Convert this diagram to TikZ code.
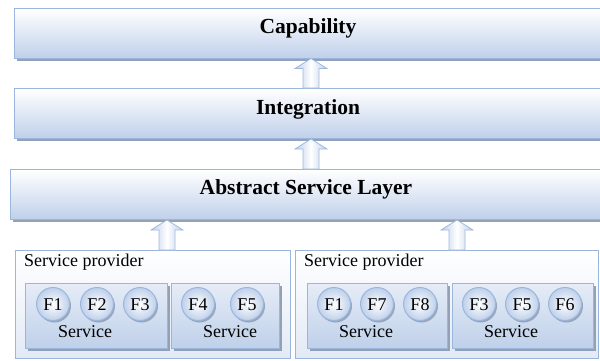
\documentclass[tikz,border=0pt]{standalone}
\usepackage{fontspec}
\setmainfont{Liberation Serif}
\usetikzlibrary{calc,shadows}
\definecolor{bord}{HTML}{9BB6DE}
\definecolor{botc}{HTML}{BFD0EA}
\definecolor{shad}{HTML}{8A98AE}
\definecolor{arrb}{HTML}{9FB8DE}
\tikzset{
  layer/.style={draw=bord,line width=1pt,top color=white,bottom color=botc,
    drop shadow={shadow xshift=2pt,shadow yshift=-2.5pt,fill=shad,opacity=0.9},
    minimum height=50pt,anchor=north west,inner sep=0pt},
  title/.style={font=\fontsize{21.5}{24}\selectfont\bfseries,anchor=base,inner sep=0pt},
  provider/.style={draw=bord,line width=1pt,top color=white,bottom color=botc!45,
    minimum height=108pt,anchor=north west,inner sep=0pt},
  servbox/.style={draw=bord,line width=1pt,top color=white!60!botc,bottom color=botc,
    drop shadow={shadow xshift=2pt,shadow yshift=-2.5pt,fill=shad,opacity=0.9},
    minimum height=65pt,anchor=north west,inner sep=0pt},
  func/.style={circle,draw=bord,line width=1pt,minimum size=33pt,inner sep=0pt,
    inner color=white,outer color=botc,
    drop shadow={shadow xshift=1.5pt,shadow yshift=-2pt,fill=shad,opacity=0.8}},
  flbl/.style={font=\fontsize{18}{20}\selectfont,anchor=base,inner sep=0pt},
  lbl/.style={font=\fontsize{18}{20}\selectfont,inner sep=0pt,anchor=base},
  barrow/.style={draw=arrb,line width=0.8pt,left color=botc,right color=botc,middle color=white}
}
\newcommand{\blockarrow}[2]{%
  \path[barrow] ($(#2)+(-8,0)$) -- ($(#1)+(-8,10)$) -- ($(#1)+(-16,10)$) -- (#1)
    -- ($(#1)+(16,10)$) -- ($(#1)+(8,10)$) -- ($(#2)+(8,0)$) -- cycle;}
\begin{document}
\begin{tikzpicture}[x=1pt,y=-1pt]
\useasboundingbox (0,0) rectangle (600,360);
\begin{scope}
\clip (0,0) rectangle (600,360);
\node[layer,minimum width=600pt] (cap) at (14,8) {};
\node[layer,minimum width=600pt] (integ) at (14,88) {};
\node[layer,minimum width=600pt] (asl) at (10,169) {};
\node[provider,minimum width=275pt] (pl) at (15,250) {};
\node[provider,minimum width=303pt] (pr) at (295,250) {};
\end{scope}
\node[title] (capt) at (308,33) {Capability};
\node[title] (integt) at (308,114) {Integration};
\node[title] (aslt) at (306,194.5) {Abstract Service Layer};
\node[lbl,anchor=base west] (plt) at (24,266) {Service provider};
\node[lbl,anchor=base west] (prt) at (304,266) {Service provider};

\node[servbox,minimum width=142pt] (s1) at (25,283) {};
\node[servbox,minimum width=108pt] (s2) at (171,283) {};
\node[servbox,minimum width=140pt] (s3) at (307,283) {};
\node[servbox,minimum width=141pt] (s4) at (452,283) {};

\node[lbl] (s1t) at (85,337) {Service};
\node[lbl] (s2t) at (230,337) {Service};
\node[lbl] (s3t) at (366,337) {Service};
\node[lbl] (s4t) at (511,337) {Service};

\node[func] (a1) at (53,304) {};
\node[func] (a2) at (97,304) {};
\node[func] (a3) at (140,304) {};
\node[func] (b1) at (198,304) {};
\node[func] (b2) at (247,304) {};
\node[func] (c1) at (334,304) {};
\node[func] (c2) at (377,304) {};
\node[func] (c3) at (420,304) {};
\node[func] (d1) at (479,304) {};
\node[func] (d2) at (522,304) {};
\node[func] (d3) at (565,304) {};
\node[flbl] at ([yshift=-6pt]a1.center) {F1};
\node[flbl] at ([yshift=-6pt]a2.center) {F2};
\node[flbl] at ([yshift=-6pt]a3.center) {F3};
\node[flbl] at ([yshift=-6pt]b1.center) {F4};
\node[flbl] at ([yshift=-6pt]b2.center) {F5};
\node[flbl] at ([yshift=-6pt]c1.center) {F1};
\node[flbl] at ([yshift=-6pt]c2.center) {F7};
\node[flbl] at ([yshift=-6pt]c3.center) {F8};
\node[flbl] at ([yshift=-6pt]d1.center) {F3};
\node[flbl] at ([yshift=-6pt]d2.center) {F5};
\node[flbl] at ([yshift=-6pt]d3.center) {F6};

\coordinate (t1) at (311,58.5);
\coordinate (f1) at (311,88);
\coordinate (t2) at (311,139);
\coordinate (f2) at (311,169);
\coordinate (t3) at (167,220);
\coordinate (f3) at (167,250);
\coordinate (t4) at (457,220);
\coordinate (f4) at (457,250);
\blockarrow{t1}{f1}
\blockarrow{t2}{f2}
\blockarrow{t3}{f3}
\blockarrow{t4}{f4}
\end{tikzpicture}
\end{document}
